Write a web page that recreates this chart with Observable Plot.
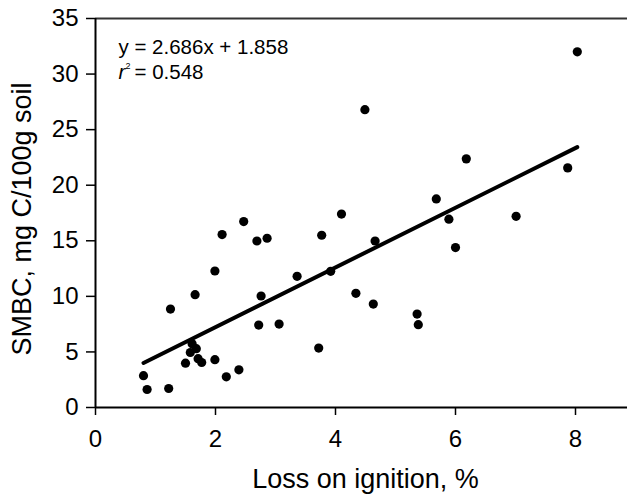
<!DOCTYPE html>
<html>
<head>
<meta charset="utf-8">
<script src="https://cdn.jsdelivr.net/npm/d3@7"></script>
<script src="https://cdn.jsdelivr.net/npm/@observablehq/plot@0.6"></script>
<style>
  html, body { margin: 0; padding: 0; background: #fff; overflow: hidden; }
</style>
</head>
<body>
<div id="chart"></div>
<script>
// Loss on ignition (%) values
const loi = [0.80, 0.86, 1.22, 1.25, 1.50, 1.58, 1.61, 1.68, 1.66, 1.71,
             1.77, 1.99, 1.99, 2.11, 2.18, 2.39, 2.47, 2.69, 2.72, 2.76,
             2.86, 3.06, 3.36, 3.72, 3.77, 3.92, 4.10, 4.34, 4.66, 5.89,
             6.00, 7.01, 4.63, 5.36, 5.38, 5.68, 8.03, 4.49, 6.18, 7.87];
// SMBC (mg C/100g soil) values
const smbc = [2.86, 1.62, 1.71, 8.86, 3.99, 4.95, 5.74, 5.29, 10.15, 4.39,
              4.05, 4.30, 12.28, 15.56, 2.76, 3.39, 16.73, 14.98, 7.42, 10.03,
              15.23, 7.51, 11.80, 5.35, 15.50, 12.25, 17.40, 10.27, 14.98, 16.94,
              14.39, 17.20, 9.31, 8.41, 7.45, 18.77, 32.00, 26.80, 22.37, 21.56];
const slope = 2.686;
const intercept = 1.858;
const eqText = "y = 2.686x + 1.858";
const r2Text = "= 0.548";
const xTicks = [0, 2, 4, 6, 8];
const yTicks = [0, 5, 10, 15, 20, 25, 30, 35];
const xLabel = "Loss on ignition, %";
const yLabel = "SMBC, mg C/100g soil";

const points = loi.map((x, i) => ({x, y: smbc[i]}));
const xmin = d3.min(loi), xmax = d3.max(loi);
const fit = [xmin, xmax].map(x => ({x, y: slope * x + intercept}));

const font = "'Liberation Sans', Arial, sans-serif";

const chart = Plot.plot({
  width: 627,
  height: 495,
  marginLeft: 95,
  marginRight: 0,
  marginTop: 18,
  marginBottom: 88,
  style: {fontFamily: font, fontSize: "24px", color: "#000", background: "#fff"},
  x: {domain: [0, 532 / 60]},
  y: {domain: [0, 35]},
  marks: [
    Plot.axisX({ticks: xTicks, tickSize: 8, tickPadding: 14, tickFormat: d => String(d), label: null, strokeWidth: 1.5}),
    Plot.axisY({ticks: yTicks, tickSize: 9, tickPadding: 8, tickFormat: d => String(d), label: null, strokeWidth: 1.5}),
    Plot.ruleY([35], {stroke: "#333", strokeWidth: 2}),
    Plot.ruleX([0], {stroke: "#000", strokeWidth: 2}),
    Plot.ruleY([0], {stroke: "#000", strokeWidth: 2}),
    Plot.line(fit, {x: "x", y: "y", stroke: "#000", strokeWidth: 4}),
    Plot.dot(points, {x: "x", y: "y", r: 4.6, fill: "#000", stroke: "none"}),
    Plot.text([eqText], {frameAnchor: "top-left", textAnchor: "start", lineAnchor: "middle", dx: 23, dy: 29, fontSize: 20.5}),
    Plot.text(["r"], {frameAnchor: "top-left", textAnchor: "start", lineAnchor: "middle", dx: 23, dy: 54, fontSize: 20.5, fontStyle: "italic"}),
    Plot.text(["2"], {frameAnchor: "top-left", textAnchor: "start", lineAnchor: "middle", dx: 30, dy: 48, fontSize: 9}),
    Plot.text([r2Text], {frameAnchor: "top-left", textAnchor: "start", lineAnchor: "middle", dx: 39, dy: 54, fontSize: 20.5}),
    Plot.text([xLabel], {frameAnchor: "bottom", textAnchor: "middle", lineAnchor: "middle", dx: 4, dy: 72, fontSize: 27}),
    Plot.text([yLabel], {frameAnchor: "left", textAnchor: "middle", lineAnchor: "middle", dx: -73, dy: 6, rotate: -90, fontSize: 27})
  ]
});
document.getElementById("chart").appendChild(chart);
</script>
</body>
</html>
